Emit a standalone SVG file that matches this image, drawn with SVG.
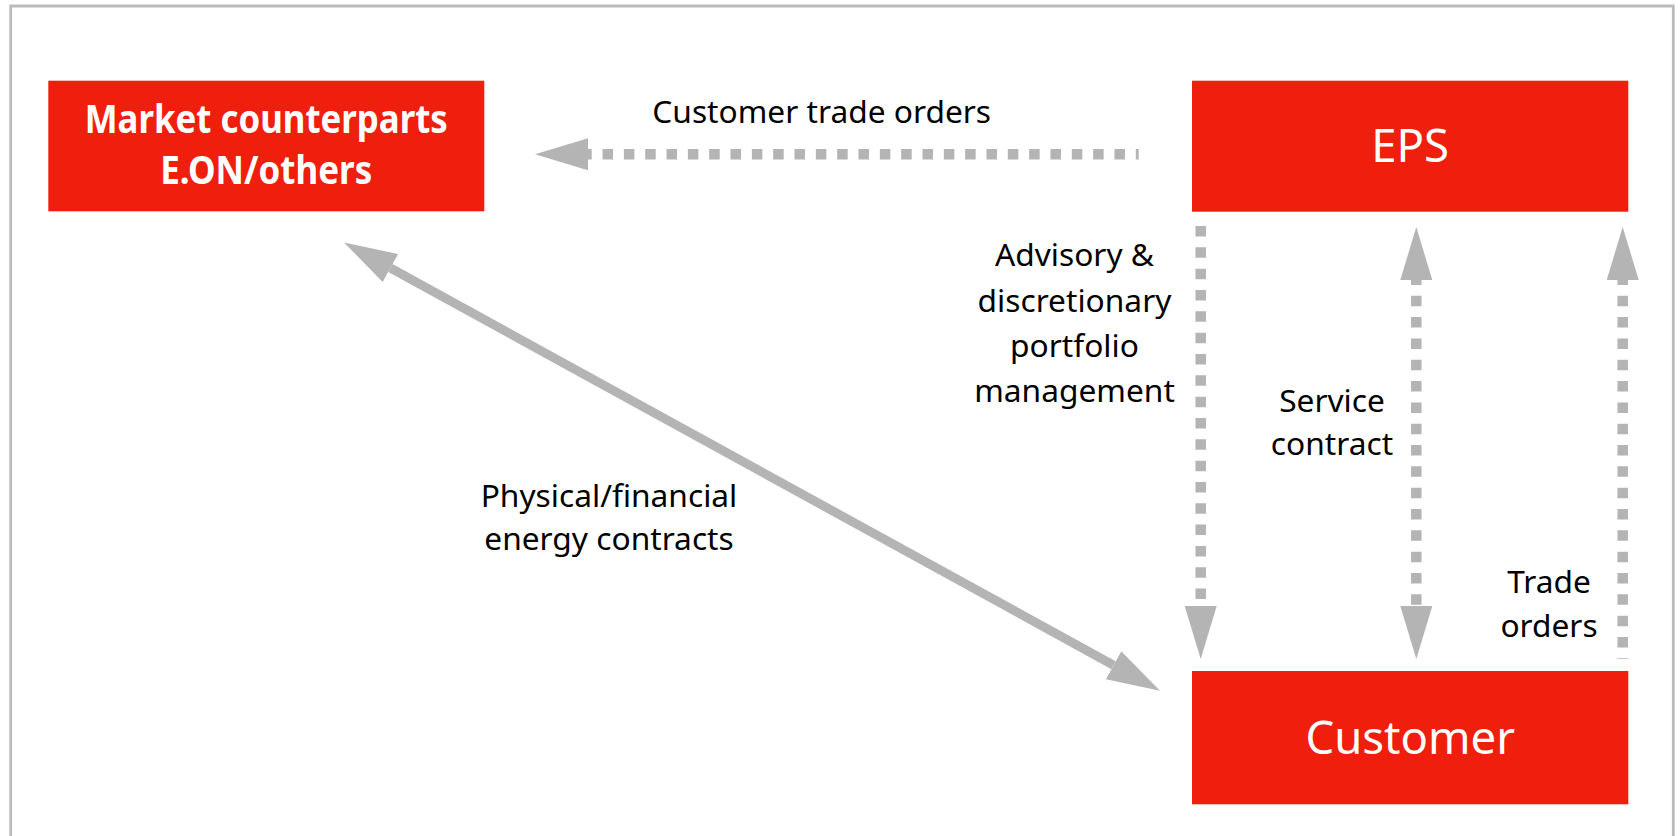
<svg xmlns="http://www.w3.org/2000/svg" width="1680" height="836" viewBox="0 0 1680 836">
  <style>
    .box { fill: #f01e0d; }
    .boxtxt { fill: #ffffff; font-family: "Noto Sans", "Open Sans", sans-serif; font-size: 45.5px; text-anchor: middle; }
    .boxbold { fill: #ffffff; font-family: "Noto Sans", "Open Sans", sans-serif; font-size: 39px; font-weight: bold; text-anchor: middle; }
    .lbl { fill: #000000; font-family: "Noto Sans", "Open Sans", sans-serif; font-size: 31.7px; text-anchor: middle; }
    .dash { fill: none; stroke: #b4b4b4; stroke-width: 10.5; stroke-dasharray: 10.5 10.83; }
    .solid { fill: none; stroke: #b4b4b4; stroke-width: 9; }
  </style>
  <defs>
    <marker id="head" viewBox="0 0 53 32" refX="0" refY="16" markerWidth="53" markerHeight="32" markerUnits="userSpaceOnUse" orient="auto-start-reverse">
      <path d="M0,0 L53,16 L0,32 Z" fill="#b4b4b4"/>
    </marker>
  </defs>
  <rect width="1680" height="836" fill="#ffffff"/>
  <path d="M10.7,836 V6 H1673.3 V836" fill="none" stroke="#bbbbbb" stroke-width="2.8"/>

  <g id="connectors">
    <path class="dash" d="M1138.7,154.3 H588" style="stroke-dashoffset:7.6" marker-end="url(#head)"/>
    <path class="dash" d="M1200.7,226 V606" marker-end="url(#head)"/>
    <path class="dash" d="M1416.3,280 V606" style="stroke-dashoffset:5.6" marker-start="url(#head)" marker-end="url(#head)"/>
    <path class="dash" d="M1622.7,280 V659" style="stroke-dashoffset:5.6" marker-start="url(#head)"/>
    <path class="solid" d="M390.45,268 L1113.55,665.2" marker-start="url(#head)" marker-end="url(#head)"/>
  </g>

  <g id="market">
    <rect class="box" x="48.3" y="80.7" width="436" height="130.6"/>
    <text class="boxbold" x="266.3" y="133" textLength="363" lengthAdjust="spacingAndGlyphs">Market counterparts</text>
    <text class="boxbold" x="266.3" y="184" textLength="212" lengthAdjust="spacingAndGlyphs">E.ON/others</text>
  </g>

  <g id="eps">
    <rect class="box" x="1192" y="80.7" width="436.3" height="131"/>
    <text class="boxtxt" x="1410.2" y="161.7">EPS</text>
  </g>

  <g id="customer">
    <rect class="box" x="1192" y="671" width="436.3" height="133.3"/>
    <text class="boxtxt" x="1410.2" y="754.3">Customer</text>
  </g>

  <g id="labels">
    <text class="lbl" x="821.7" y="122.7">Customer trade orders</text>
    <text class="lbl" x="1074.5" y="266">Advisory &amp;</text>
    <text class="lbl" x="1074.5" y="311.5">discretionary</text>
    <text class="lbl" x="1074.5" y="357">portfolio</text>
    <text class="lbl" x="1074.5" y="402">management</text>
    <text class="lbl" x="1332" y="411.7">Service</text>
    <text class="lbl" x="1332" y="455">contract</text>
    <text class="lbl" x="1549" y="592.7">Trade</text>
    <text class="lbl" x="1549" y="636.7">orders</text>
    <text class="lbl" x="609" y="506.7">Physical/financial</text>
    <text class="lbl" x="609" y="550">energy contracts</text>
  </g>
</svg>
